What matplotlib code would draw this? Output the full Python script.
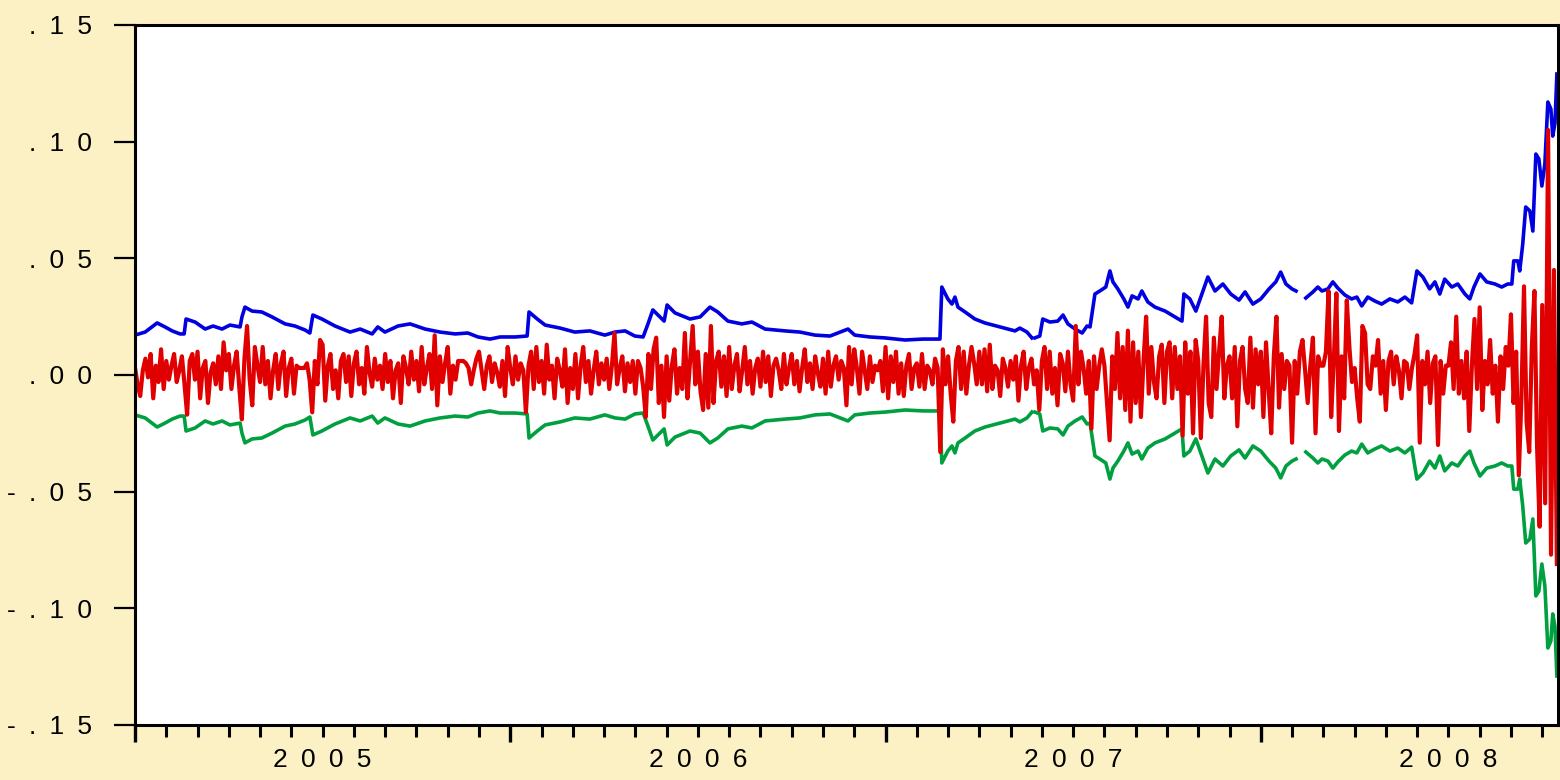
import numpy as np
import matplotlib.pyplot as plt

plt.rc('font', family=['Liberation Sans', 'DejaVu Sans'], size=19)

BG = '#FCF1C4'
BLUE = '#0000E0'
RED = '#E00000'
GREEN = '#00A040'

X_END = 2008.789

# daily returns, one row per month (Jan..Dec)
ret_2005 = [
    [0.003, -0.004, -0.009, 0.002, 0.007, -0.001, 0.009, -0.010, 0.004, -0.003, 0.011, -0.006],
    [0.006, -0.002, 0.004, 0.009, -0.003, 0.002, 0.008, -0.004, -0.017, 0.006, 0.009, -0.002],
    [0.010, -0.010, 0.003, 0.006, -0.012, 0.001, 0.005, -0.004, 0.008, -0.006, 0.014, 0.002],
    [0.009, -0.006, 0.004, 0.010, -0.005, -0.019, 0.007, 0.021, -0.002, -0.013, 0.012, 0.004],
    [-0.003, 0.012, -0.004, 0.006, -0.010, 0.002, 0.009, -0.006, 0.005, 0.010, -0.009, 0.003],
    [0.007, -0.008, 0.004, 0.003, 0.003, 0.003, 0.005, -0.002, -0.016, 0.006, -0.004, 0.015],
    [0.013, -0.011, 0.004, 0.009, -0.006, 0.002, -0.010, 0.006, 0.009, -0.003, 0.008, -0.009],
    [0.005, 0.010, -0.004, 0.003, -0.008, 0.012, 0.001, -0.005, 0.007, -0.002, 0.004, -0.006],
    [0.009, -0.003, 0.006, -0.010, 0.002, 0.005, -0.012, 0.008, 0.003, -0.004, 0.010, -0.002],
    [0.006, -0.007, 0.012, -0.004, 0.003, 0.009, -0.006, 0.017, -0.013, 0.008, -0.003, 0.005],
    [0.012, -0.008, 0.004, -0.002, 0.006, 0.006, 0.006, 0.005, 0.003, -0.004, 0.002, 0.007],
    [0.010, 0.002, -0.006, 0.004, 0.008, -0.003, 0.005, 0.001, -0.005, 0.006, -0.009, 0.012],
]
ret_2006 = [
    [0.003, -0.004, 0.008, -0.002, 0.005, 0.002, -0.016, 0.004, 0.010, -0.006, 0.012, -0.003],
    [0.006, -0.008, 0.013, -0.002, 0.004, -0.010, 0.007, 0.002, -0.005, 0.011, -0.012, 0.003],
    [-0.006, 0.009, -0.010, 0.004, 0.012, -0.003, 0.006, -0.008, 0.002, 0.010, -0.004, 0.005],
    [-0.002, 0.007, -0.006, 0.004, 0.018, -0.004, 0.003, 0.008, -0.007, 0.005, -0.003, 0.006],
    [-0.008, 0.006, 0.003, -0.005, -0.018, 0.009, -0.006, 0.011, 0.016, -0.012, 0.004, -0.018],
    [0.008, -0.011, 0.004, 0.011, -0.008, 0.003, -0.006, 0.018, -0.010, 0.006, 0.021, -0.004],
    [0.010, -0.007, -0.015, 0.009, -0.014, 0.021, -0.012, 0.006, 0.010, -0.005, 0.008, -0.009],
    [0.012, -0.006, 0.004, 0.009, -0.007, 0.002, 0.012, -0.004, 0.006, -0.008, 0.003, 0.007],
    [-0.005, 0.010, -0.003, 0.008, -0.009, 0.004, 0.007, 0.002, -0.006, 0.009, -0.004, 0.003],
    [0.009, -0.004, 0.006, -0.007, 0.003, 0.011, -0.003, 0.005, -0.006, 0.008, 0.001, -0.005],
    [0.007, -0.008, 0.010, -0.005, 0.004, 0.008, -0.002, 0.006, 0.003, -0.013, 0.012, -0.004],
    [0.011, 0.003, -0.008, 0.010, 0.002, -0.006, 0.008, -0.003, 0.004, 0.002, 0.006, -0.007],
]
ret_2007 = [
    [0.012, -0.010, 0.008, -0.003, 0.010, -0.008, 0.005, -0.009, 0.004, 0.009, -0.006, 0.003],
    [0.005, -0.005, 0.009, -0.006, 0.004, 0.002, -0.004, 0.007, 0.003, -0.033, 0.011, -0.004],
    [0.008, -0.008, -0.020, 0.006, 0.012, -0.006, 0.010, -0.008, 0.004, 0.012, 0.005, -0.004],
    [0.010, -0.004, 0.011, -0.007, 0.013, -0.006, 0.004, 0.002, -0.009, 0.007, 0.003, -0.005],
    [0.006, -0.002, 0.008, -0.011, 0.004, 0.010, -0.006, 0.003, 0.007, -0.004, 0.002, -0.015],
    [0.006, 0.012, -0.006, 0.010, -0.008, 0.003, -0.013, 0.009, 0.005, -0.007, 0.010, -0.004],
    [-0.011, 0.021, -0.004, 0.010, 0.003, -0.008, 0.006, -0.023, 0.008, -0.006, 0.004, 0.011],
    [0.004, -0.012, -0.028, 0.008, -0.006, 0.018, -0.010, 0.012, -0.015, 0.019, -0.020, 0.014],
    [-0.012, 0.010, -0.018, 0.006, 0.025, -0.008, 0.012, -0.003, -0.010, 0.008, 0.013, -0.012],
    [0.010, 0.014, -0.010, 0.012, -0.006, 0.008, -0.026, 0.014, -0.008, 0.010, -0.025, 0.015],
    [0.006, -0.027, 0.004, 0.025, -0.012, -0.018, 0.016, -0.006, 0.010, 0.025, -0.010, 0.004],
    [0.008, -0.010, 0.012, -0.022, 0.006, 0.012, -0.006, -0.012, 0.016, -0.014, 0.011, -0.004],
]
ret_2008 = [
    [0.010, -0.018, 0.014, -0.006, -0.025, 0.008, 0.025, -0.014, 0.009, -0.006, 0.006, 0.004],
    [-0.029, 0.006, -0.008, 0.010, 0.015, 0.002, -0.012, 0.004, 0.016, -0.025, 0.008, 0.004],
    [0.004, 0.010, 0.036, -0.018, 0.006, 0.035, -0.024, 0.008, -0.010, 0.032, 0.012, -0.003],
    [0.003, -0.010, -0.020, 0.021, 0.018, -0.004, -0.006, 0.008, 0.004, 0.015, -0.008, 0.006],
    [-0.015, 0.006, 0.010, -0.004, 0.008, 0.002, -0.010, 0.006, 0.005, -0.006, 0.003, 0.009],
    [0.017, -0.029, 0.006, -0.004, 0.010, -0.012, 0.005, 0.008, -0.030, 0.006, -0.008, 0.004],
    [0.004, 0.014, -0.006, 0.025, -0.008, 0.006, -0.010, 0.010, -0.024, 0.004, 0.024, -0.006],
    [0.029, -0.015, 0.006, -0.004, 0.015, -0.008, 0.004, -0.020, 0.008, -0.006, 0.012, 0.004],
    [0.026, -0.012, 0.010, -0.043, -0.010, 0.038, -0.020, -0.033, 0.012, 0.036, -0.030, -0.065],
    [0.030, -0.055, 0.105, -0.077, 0.045, -0.081],
]

# +/- 2 s.e. bands, corner points (fractional year)
band_x = [
    2005.000, 2005.027, 2005.059, 2005.080, 2005.099, 2005.120, 2005.131, 2005.136, 2005.160, 2005.187,
    2005.208, 2005.232, 2005.253, 2005.280, 2005.285, 2005.293, 2005.312, 2005.338, 2005.365, 2005.400,
    2005.426, 2005.453, 2005.466, 2005.474, 2005.498, 2005.533, 2005.573, 2005.600, 2005.632, 2005.647,
    2005.666, 2005.701, 2005.733, 2005.773, 2005.813, 2005.853, 2005.887, 2005.914, 2005.946, 2005.973,
    2006.013, 2006.045, 2006.050, 2006.072, 2006.093, 2006.133, 2006.172, 2006.212, 2006.252, 2006.279,
    2006.306, 2006.332, 2006.354, 2006.367, 2006.380, 2006.399, 2006.410, 2006.418, 2006.439, 2006.479,
    2006.506, 2006.532, 2006.553, 2006.580, 2006.617, 2006.644, 2006.679, 2006.732, 2006.772, 2006.812,
    2006.852, 2006.900, 2006.918, 2006.958, 2006.998, 2007.052, 2007.100, 2007.145, 2007.150, 2007.166,
    2007.177, 2007.185, 2007.193, 2007.212, 2007.238, 2007.265, 2007.305, 2007.345, 2007.358, 2007.377,
    2007.390, 2007.394, 2007.398, 2007.411, 2007.419, 2007.438, 2007.459, 2007.473, 2007.486, 2007.505,
    2007.524, 2007.537, 2007.545, 2007.558, 2007.571, 2007.587, 2007.598, 2007.606, 2007.619, 2007.635,
    2007.646, 2007.657, 2007.673, 2007.683, 2007.699, 2007.718, 2007.745, 2007.771, 2007.790, 2007.795,
    2007.811, 2007.827, 2007.848, 2007.859, 2007.878, 2007.899, 2007.920, 2007.942, 2007.958, 2007.979,
    2008.000, 2008.022, 2008.040, 2008.053, 2008.067, 2008.083, 2008.094, 2008.105, 2008.120, 2008.139,
    2008.152, 2008.163, 2008.179, 2008.192, 2008.205, 2008.224, 2008.242, 2008.256, 2008.269, 2008.285,
    2008.304, 2008.322, 2008.344, 2008.365, 2008.384, 2008.402, 2008.416, 2008.432, 2008.450, 2008.464,
    2008.477, 2008.490, 2008.509, 2008.525, 2008.544, 2008.557, 2008.568, 2008.584, 2008.602, 2008.624,
    2008.642, 2008.658, 2008.669, 2008.674, 2008.685, 2008.690, 2008.698, 2008.706, 2008.717, 2008.725,
    2008.733, 2008.741, 2008.749, 2008.757, 2008.765, 2008.773, 2008.778, 2008.784, 2008.789,
]
upper_band = [
    0.0171, 0.0184, 0.0223, 0.0206, 0.0189, 0.0176, 0.0176, 0.0240, 0.0227, 0.0197,
    0.0210, 0.0197, 0.0214, 0.0206, 0.0249, 0.0291, 0.0274, 0.0270, 0.0249, 0.0219,
    0.0210, 0.0193, 0.0180, 0.0257, 0.0240, 0.0210, 0.0184, 0.0197, 0.0176, 0.0206,
    0.0184, 0.0210, 0.0219, 0.0197, 0.0184, 0.0176, 0.0180, 0.0163, 0.0154, 0.0163,
    0.0163, 0.0167, 0.0270, 0.0240, 0.0214, 0.0201, 0.0184, 0.0189, 0.0171, 0.0184,
    0.0189, 0.0167, 0.0163, 0.0219, 0.0279, 0.0249, 0.0231, 0.0300, 0.0266, 0.0240,
    0.0249, 0.0291, 0.0270, 0.0231, 0.0219, 0.0227, 0.0197, 0.0189, 0.0184, 0.0171,
    0.0167, 0.0197, 0.0171, 0.0163, 0.0159, 0.0150, 0.0154, 0.0154, 0.0377, 0.0326,
    0.0304, 0.0334, 0.0291, 0.0270, 0.0240, 0.0223, 0.0206, 0.0189, 0.0201, 0.0184,
    0.0159, np.nan, 0.0159, 0.0167, 0.0240, 0.0227, 0.0231, 0.0257, 0.0219, 0.0197,
    0.0180, 0.0210, 0.0206, 0.0347, 0.0360, 0.0377, 0.0446, 0.0399, 0.0369, 0.0326,
    0.0291, 0.0339, 0.0326, 0.0360, 0.0313, 0.0291, 0.0274, 0.0249, 0.0231, 0.0347,
    0.0326, 0.0274, 0.0369, 0.0420, 0.0360, 0.0390, 0.0347, 0.0321, 0.0356, 0.0304,
    0.0326, 0.0369, 0.0399, 0.0441, 0.0390, 0.0369, 0.0360, np.nan, 0.0330, 0.0356,
    0.0377, 0.0360, 0.0369, 0.0399, 0.0373, 0.0343, 0.0326, 0.0334, 0.0296, 0.0334,
    0.0317, 0.0304, 0.0326, 0.0313, 0.0334, 0.0309, 0.0446, 0.0420, 0.0369, 0.0399,
    0.0347, 0.0411, 0.0377, 0.0390, 0.0347, 0.0326, 0.0377, 0.0433, 0.0399, 0.0390,
    0.0377, 0.0390, 0.0390, 0.0489, 0.0489, 0.0446, 0.0561, 0.0720, 0.0703, 0.0617,
    0.0947, 0.0926, 0.0810, 0.0904, 0.1170, 0.1140, 0.1024, 0.1080, 0.1290,
]
lower_band = [
    -0.0171, -0.0184, -0.0223, -0.0206, -0.0189, -0.0176, -0.0176, -0.0240, -0.0227, -0.0197,
    -0.0210, -0.0197, -0.0214, -0.0206, -0.0249, -0.0291, -0.0274, -0.0270, -0.0249, -0.0219,
    -0.0210, -0.0193, -0.0180, -0.0257, -0.0240, -0.0210, -0.0184, -0.0197, -0.0176, -0.0206,
    -0.0184, -0.0210, -0.0219, -0.0197, -0.0184, -0.0176, -0.0180, -0.0163, -0.0154, -0.0163,
    -0.0163, -0.0167, -0.0270, -0.0240, -0.0214, -0.0201, -0.0184, -0.0189, -0.0171, -0.0184,
    -0.0189, -0.0167, -0.0163, -0.0219, -0.0279, -0.0249, -0.0231, -0.0300, -0.0266, -0.0240,
    -0.0249, -0.0291, -0.0270, -0.0231, -0.0219, -0.0227, -0.0197, -0.0189, -0.0184, -0.0171,
    -0.0167, -0.0197, -0.0171, -0.0163, -0.0159, -0.0150, -0.0154, -0.0154, -0.0377, -0.0326,
    -0.0304, -0.0334, -0.0291, -0.0270, -0.0240, -0.0223, -0.0206, -0.0189, -0.0201, -0.0184,
    -0.0159, np.nan, -0.0159, -0.0167, -0.0240, -0.0227, -0.0231, -0.0257, -0.0219, -0.0197,
    -0.0180, -0.0210, -0.0206, -0.0347, -0.0360, -0.0377, -0.0446, -0.0399, -0.0369, -0.0326,
    -0.0291, -0.0339, -0.0326, -0.0360, -0.0313, -0.0291, -0.0274, -0.0249, -0.0231, -0.0347,
    -0.0326, -0.0274, -0.0369, -0.0420, -0.0360, -0.0390, -0.0347, -0.0321, -0.0356, -0.0304,
    -0.0326, -0.0369, -0.0399, -0.0441, -0.0390, -0.0369, -0.0360, np.nan, -0.0330, -0.0356,
    -0.0377, -0.0360, -0.0369, -0.0399, -0.0373, -0.0343, -0.0326, -0.0334, -0.0296, -0.0334,
    -0.0317, -0.0304, -0.0326, -0.0313, -0.0334, -0.0309, -0.0446, -0.0420, -0.0369, -0.0399,
    -0.0347, -0.0411, -0.0377, -0.0390, -0.0347, -0.0326, -0.0377, -0.0433, -0.0399, -0.0390,
    -0.0377, -0.0390, -0.0390, -0.0489, -0.0489, -0.0446, -0.0561, -0.0720, -0.0703, -0.0617,
    -0.0947, -0.0926, -0.0810, -0.0904, -0.1170, -0.1140, -0.1024, -0.1080, -0.1290,
]

years = [2005, 2006, 2007, 2008]
y_ticks = [-0.15, -0.10, -0.05, 0.00, 0.05, 0.10, 0.15]
y_labels = ['-.15', '-.10', '-.05', '.00', '.05', '.10', '.15']


def spaced(s):
    # wide letter spacing on axis labels
    return '\u2002'.join(s)


def month_positions(rows, year):
    xs = []
    for m, row in enumerate(rows):
        start = year + m / 12
        end = start + 1 / 12
        if end > X_END:
            xs.extend(np.linspace(start, X_END, len(row)))
            continue
        xs.extend(start + i * (end - start) / len(row) for i in range(len(row)))
    return xs


def do_plot():
    fig = plt.figure(figsize=(15.6, 7.8), dpi=100, facecolor=BG)
    ax = fig.add_axes([135 / 1560, 55 / 780, 1423 / 1560, 700 / 780])
    ax.set_facecolor('white')

    rx, ry = [], []
    for year, rows in zip(years, [ret_2005, ret_2006, ret_2007, ret_2008]):
        rx.extend(month_positions(rows, year))
        ry.extend(v for row in rows for v in row)

    ax.plot(band_x, upper_band, color=BLUE, lw=2.6)
    ax.plot(band_x, lower_band, color=GREEN, lw=2.6)
    ax.plot(rx, ry, color=RED, lw=3.0)

    ax.set_xlim(2005.0, 2008.792)
    ax.set_ylim(-0.15, 0.15)

    ax.set_yticks(y_ticks, [spaced(s) for s in y_labels])
    ax.tick_params(axis='y', direction='out', length=15, width=1.6, pad=16)

    months = [y + m / 12 for y in years for m in range(1, 12) if y + m / 12 < 2008.792]
    month_labels = [spaced(str(int(round(x - 0.5)))) if abs((x % 1) - 0.5) < 1e-6 else '' for x in months]
    ax.set_xticks(years, ['', '', '', ''])
    ax.set_xticks(months, month_labels, minor=True)
    ax.tick_params(axis='x', which='major', direction='out', length=12, width=2.4)
    ax.tick_params(axis='x', which='minor', direction='out', length=8.5, width=2.2, pad=8)

    for s in ax.spines.values():
        s.set_linewidth(2.2)

    fig.savefig('out.png', dpi=100, facecolor=BG)


if __name__ == '__main__':
    do_plot()
